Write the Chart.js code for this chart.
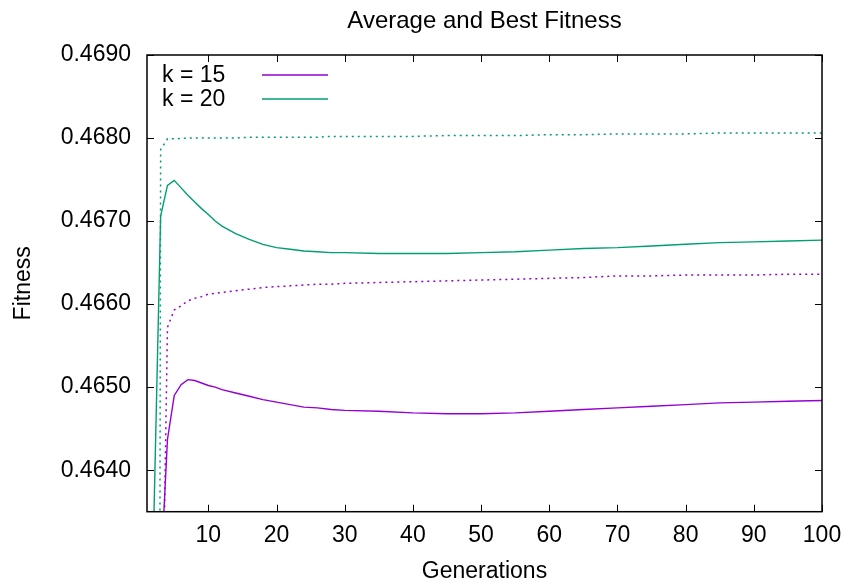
<!DOCTYPE html>
<html>
<head>
<meta charset="utf-8">
<script src="https://cdn.jsdelivr.net/npm/chart.js@4.4.0/dist/chart.umd.min.js"></script>
<style>
html,body{margin:0;padding:0;background:#fff;}
#wrap{width:848px;height:585px;}
</style>
</head>
<body>
<div id="wrap"><canvas id="c" width="848" height="585"></canvas></div>
<script>
const titleText = "Average and Best Fitness";
const xTitle = "Generations";
const yTitle = "Fitness";
const generations = [1,2,3,4,5,6,7,8,9,10,11,12,14,16,18,20,22,24,26,28,30,35,40,45,50,55,60,65,70,75,80,85,90,95,100];
const k15Avg = [0.4500,0.4570,0.4627,0.46437,0.46490,0.46503,0.46509,0.46508,0.46505,0.46502,0.46500,0.46497,
  0.46493,0.46489,0.46485,0.46482,0.46479,0.46476,0.46475,0.46473,0.46472,
  0.46471,0.46469,0.46468,0.46468,0.46469,0.46471,0.46473,0.46475,0.46477,0.46479,0.46481,0.46482,0.46483,0.46484];
const k20Avg = [0.4560,0.4634,0.46706,0.46743,0.46749,0.46740,0.46731,0.46723,0.46715,0.46708,0.46700,0.46694,
  0.46685,0.46678,0.46672,0.46668,0.46666,0.46664,0.46663,0.46662,0.46662,
  0.46661,0.46661,0.46661,0.46662,0.46663,0.46665,0.46667,0.46668,0.46670,0.46672,0.46674,0.46675,0.46676,0.46677];
const k15Best = [0.4400,0.4500,0.4606,0.46572,0.46593,0.46598,0.46604,0.46607,0.46609,0.46612,0.46613,0.46614,
  0.46616,0.46618,0.46620,0.46621,0.46622,0.46623,0.46624,0.46624,0.46625,
  0.46626,0.46627,0.46628,0.46629,0.46630,0.46631,0.46632,0.46634,0.46634,0.46635,0.46635,0.46635,0.46636,0.46636];
const k20Best = [0.4000,0.4240,0.46786,0.46799,0.46799,0.467995,0.46800,0.46800,0.46800,0.46800,0.46800,0.46800,
  0.46800,0.46801,0.46801,0.46801,0.46801,0.46801,0.46801,0.46802,0.46802,
  0.46802,0.46802,0.46803,0.46803,0.46803,0.46804,0.46804,0.46805,0.46805,0.46805,0.46806,0.46806,0.46806,0.46806];
const seriesLabels = ["k = 15", "k = 20"];
const xTicks = [10,20,30,40,50,60,70,80,90,100];
const yTicks = [0.4640,0.4650,0.4660,0.4670,0.4680,0.4690];

const PURPLE = '#9400D3', GREEN = '#009E73';
const FONT = "'Liberation Sans', Arial, sans-serif";
const pts = arr => generations.map((g,i)=>({x:g,y:arr[i]}));

const frame = {
  id:'frame',
  afterDraw(chart){
    const {ctx, chartArea:{left,right,top,bottom}, scales:{x,y}} = chart;
    ctx.save();
    // title centred over the plot area
    ctx.font = '24px ' + FONT;
    ctx.fillStyle = '#000';
    ctx.textAlign = 'center';
    ctx.textBaseline = 'middle';
    ctx.fillText(titleText, (left+right)/2, 21);
    ctx.strokeStyle = '#000';
    ctx.lineWidth = 1;
    const TL = 7;
    ctx.beginPath();
    xTicks.forEach(v=>{
      const px = Math.round(x.getPixelForValue(v))+0.5;
      ctx.moveTo(px,bottom); ctx.lineTo(px,bottom-TL);
      ctx.moveTo(px,top); ctx.lineTo(px,top+TL);
    });
    yTicks.forEach(v=>{
      const py = Math.round(y.getPixelForValue(v))+0.5;
      ctx.moveTo(left,py); ctx.lineTo(left+TL,py);
      ctx.moveTo(right,py); ctx.lineTo(right-TL,py);
    });
    ctx.stroke();
    ctx.lineWidth = 1.5;
    ctx.strokeRect(left,top,right-left,bottom-top);
    // key
    ctx.font = '23px ' + FONT;
    ctx.fillStyle = '#000';
    ctx.textBaseline = 'middle';
    ctx.textAlign = 'left';
    [0,1].forEach(i=>{
      const ds = chart.data.datasets[i];
      const yy = top + 20 + i*24;
      ctx.fillText(ds.label, left+15, yy+1);
      ctx.strokeStyle = ds.borderColor;
      ctx.lineWidth = 1.3;
      ctx.beginPath();
      ctx.moveTo(left+115, yy); ctx.lineTo(left+181, yy);
      ctx.stroke();
    });
    ctx.restore();
  }
};

new Chart(document.getElementById('c'), {
  type:'line',
  data:{
    datasets:[
      {label:seriesLabels[0], data:pts(k15Avg), borderColor:PURPLE, borderWidth:1.4, pointRadius:0, tension:0},
      {label:seriesLabels[1], data:pts(k20Avg), borderColor:GREEN, borderWidth:1.4, pointRadius:0, tension:0},
      {label:'', data:pts(k15Best), borderColor:PURPLE, borderWidth:1.5, borderDash:[2,4], pointRadius:0, tension:0},
      {label:'', data:pts(k20Best), borderColor:GREEN, borderWidth:1.5, borderDash:[2,4], pointRadius:0, tension:0}
    ]
  },
  options:{
    responsive:false,
    animation:false,
    devicePixelRatio:1,
    layout:{padding:{left:0,right:26,top:55,bottom:0}},
    plugins:{
      legend:{display:false},
      tooltip:{enabled:false},
      title:{display:false}
    },
    scales:{
      x:{
        type:'linear', min:1, max:100,
        afterBuildTicks: s => { s.ticks = xTicks.map(v=>({value:v})); },
        afterFit: s => { s.height = 73.3; s.paddingRight = 0; s.paddingLeft = 0; },
        grid:{display:false, drawTicks:false},
        border:{display:false},
        ticks:{color:'#000', font:{family:FONT, size:23}, padding:10, maxRotation:0, autoSkip:false},
        title:{display:true, text:xTitle, color:'#000', font:{family:FONT, size:23}, padding:{top:0,bottom:0}}
      },
      y:{
        type:'linear', min:0.4635, max:0.4690,
        afterBuildTicks: s => { s.ticks = yTicks.map(v=>({value:v})); },
        afterFit: s => { s.width = 147; },
        grid:{display:false, drawTicks:false},
        border:{display:false},
        ticks:{color:'#000', font:{family:FONT, size:23}, padding:16, autoSkip:false, callback:v=>Number(v).toFixed(4)},
        title:{display:true, text:yTitle, color:'#000', font:{family:FONT, size:23}, padding:{top:10,bottom:0}}
      }
    }
  },
  plugins:[frame]
});
</script>
</body>
</html>
